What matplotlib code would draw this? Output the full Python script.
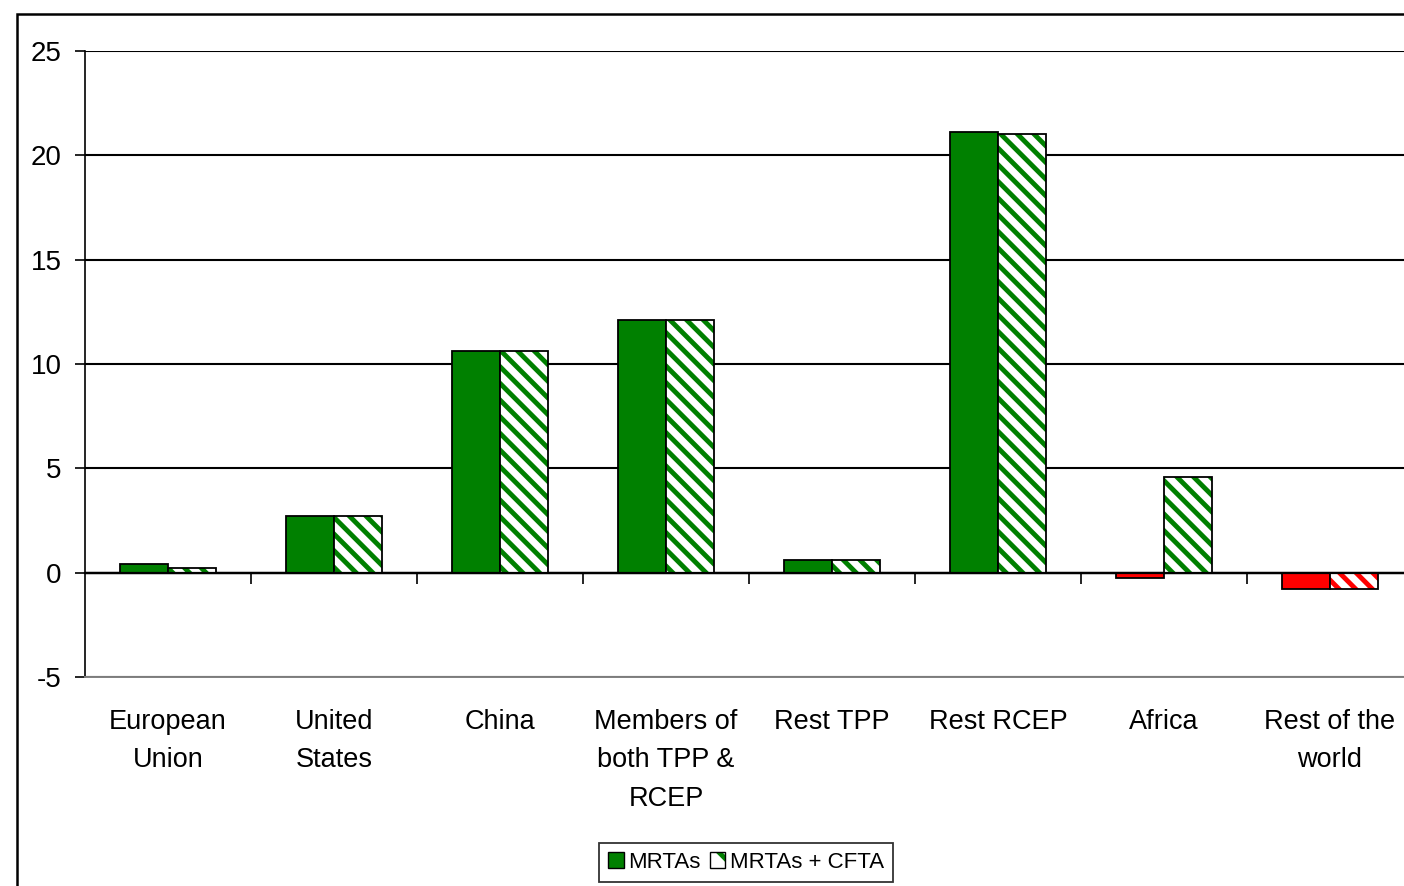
import matplotlib
matplotlib.use("Agg")
import matplotlib.pyplot as plt
from matplotlib.patches import Rectangle, Patch
from matplotlib.legend_handler import HandlerTuple
import numpy as np

categories = ["European\nUnion", "United\nStates", "China", "Members of\nboth TPP &\nRCEP",
              "Rest TPP", "Rest RCEP", "Africa", "Rest of the\nworld"]
mrtas = [0.4, 2.7, 10.6, 12.1, 0.6, 21.1, -0.25, -0.8]
mrtas_cfta = [0.2, 2.7, 10.6, 12.1, 0.6, 21.0, 4.6, -0.8]
yticks = [-5, 0, 5, 10, 15, 20, 25]
series_names = ["MRTAs", "MRTAs + CFTA"]

GREEN = "#008000"
RED = "#FF0000"

plt.rcParams['font.family'] = ['Liberation Sans', 'DejaVu Sans']
plt.rcParams['hatch.linewidth'] = 3.5

W, H = 1404, 886
fig = plt.figure(figsize=(W / 100, H / 100), dpi=100)
fig.patch.set_facecolor("white")

# outer frame
fig.patches.append(Rectangle((17 / W, -0.2), 1.2, 1 - 14 / H + 0.2, transform=fig.transFigure,
                             fill=False, edgecolor="black", linewidth=1.8, zorder=0))

left, right, top, bottom = 85, 1413, 51, 677
ax = fig.add_axes([left / W, 1 - bottom / H, (right - left) / W, (bottom - top) / H])
ax.set_facecolor("none")

x = np.arange(len(categories))
bw = 48 / 166

col1 = [GREEN if v >= 0 else RED for v in mrtas]
col2 = [GREEN if v >= 0 else RED for v in mrtas_cfta]

ax.bar(x - bw / 2, mrtas, width=bw, color=col1, edgecolor="black", linewidth=1.3, zorder=3)
# hatched series: white with coloured stripes, then black outline
for xi, v, c in zip(x + bw / 2, mrtas_cfta, col2):
    ax.bar(xi, v, width=bw, color="white", edgecolor=c, hatch="\\\\", linewidth=0, zorder=3)
ax.bar(x + bw / 2, mrtas_cfta, width=bw, fill=False, edgecolor="black", linewidth=1.3, zorder=4)

ymin, ymax = -5, 25
ax.set_xlim(-0.5, len(categories) - 0.5)
ax.set_ylim(ymin, ymax)
ax.set_yticks(yticks)
ax.set_yticklabels([str(t) for t in yticks], fontsize=20)
ax.tick_params(axis="y", direction="out", length=7, width=1.2, pad=10)
for t in yticks:
    ax.axhline(t, color="black", linewidth=1.5, zorder=1)

ax.set_xticks(x)
ax.set_xticklabels(categories, fontsize=19.5, linespacing=1.62, va="top")
ax.tick_params(axis="x", length=0, pad=23)

ax.spines["top"].set_visible(False)
ax.spines["right"].set_visible(False)
ax.spines["left"].set_linewidth(1.2)
ax.spines["bottom"].set_color("#808080")
ax.spines["bottom"].set_linewidth(1.4)

# zero line with boundary ticks
zero_frac = (0 - ymin) / (ymax - ymin)
sec = ax.secondary_xaxis(zero_frac)
sec.set_xticks(x[:-1] + 0.5)
sec.set_xticklabels([])
sec.tick_params(axis="x", direction="out", length=8, width=1.2)
sec.spines["bottom"].set_linewidth(1.6)
ax.axhline(0, color="black", linewidth=1.6, zorder=5)

# legend
h1 = Patch(facecolor=GREEN, edgecolor="black", linewidth=1.0)
h2a = Patch(facecolor="white", edgecolor=GREEN, hatch="\\", linewidth=0)
h2b = Patch(facecolor="none", edgecolor="black", linewidth=1.0)
leg = fig.legend([h1, (h2a, h2b)], series_names, loc="lower center",
                 handler_map={tuple: HandlerTuple(ndivide=1, pad=0)},
                 bbox_to_anchor=(746 / W, 0.0), ncol=2, fontsize=16,
                 frameon=True, fancybox=False, edgecolor="black", handlelength=0.7,
                 handleheight=0.7, handletextpad=0.2, columnspacing=0.4,
                 borderpad=0.4, borderaxespad=0.2)
leg.get_frame().set_linewidth(1.3)

fig.savefig("out.png", dpi=100)
